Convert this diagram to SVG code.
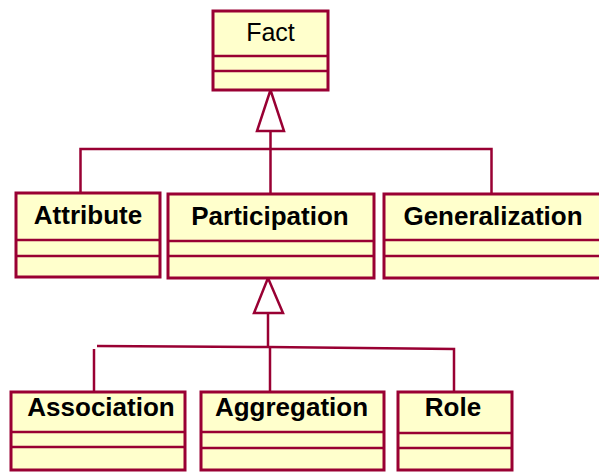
<svg xmlns="http://www.w3.org/2000/svg" width="599" height="472" viewBox="0 0 599 472">
  <style>
    .box rect { fill: #FFFFCC; stroke: #990033; stroke-width: 3; }
    .box line { stroke: #990033; stroke-width: 2.5; }
    .name { font-family: "Liberation Sans", Arial, sans-serif; font-size: 26px; font-weight: bold; fill: #000; text-anchor: middle; }
    .plain { font-weight: normal; font-size: 25px; }
    .conn { fill: none; stroke: #990033; stroke-width: 2.5; }
    .tri { fill: #FFFFFF; stroke: #990033; stroke-width: 2.5; stroke-linejoin: miter; }
  </style>
  <rect width="599" height="472" fill="#FFFFFF"/>

  <!-- connectors -->
  <g id="connectors">
    <!-- Fact generalization -->
    <polyline class="conn" points="270.5,131 270.5,194"/>
    <polyline class="conn" points="80.5,193 80.5,149 491.5,149 491.5,194"/>
    <polygon class="tri" points="270.5,90 257,131 284,131"/>
    <!-- Participation generalization -->
    <polyline class="conn" points="268,313 268,347"/>
    <polyline class="conn" points="94,392 94,349"/>
    <polyline class="conn" points="97,346 268,347 454,349 454,392"/>
    <polyline class="conn" points="270,348 270,392"/>
    <polygon class="tri" points="268,278 254,313 283,313"/>
  </g>

  <g id="fact" class="box">
    <rect x="213" y="11" width="115" height="79"/>
    <line x1="213" y1="56" x2="328" y2="56"/>
    <line x1="213" y1="71" x2="328" y2="71"/>
    <text class="name plain" x="270.5" y="41">Fact</text>
  </g>

  <g id="attribute" class="box">
    <rect x="16" y="193" width="144" height="84"/>
    <line x1="16" y1="240" x2="160" y2="240"/>
    <line x1="16" y1="256" x2="160" y2="256"/>
    <text class="name" x="88" y="224">Attribute</text>
  </g>

  <g id="participation" class="box">
    <rect x="168" y="194" width="206" height="84"/>
    <line x1="168" y1="241" x2="374" y2="241"/>
    <line x1="168" y1="256" x2="374" y2="256"/>
    <text class="name" x="270" y="225">Participation</text>
  </g>

  <g id="generalization" class="box">
    <rect x="384" y="194" width="220" height="84"/>
    <line x1="384" y1="240" x2="604" y2="240"/>
    <line x1="384" y1="256" x2="604" y2="256"/>
    <text class="name" x="493" y="225">Generalization</text>
  </g>

  <g id="association" class="box">
    <rect x="11" y="392" width="174" height="78"/>
    <line x1="11" y1="432" x2="185" y2="432"/>
    <line x1="11" y1="447" x2="185" y2="447"/>
    <text class="name" x="101" y="416">Association</text>
  </g>

  <g id="aggregation" class="box">
    <rect x="201" y="392" width="183" height="78"/>
    <line x1="201" y1="432" x2="384" y2="432"/>
    <line x1="201" y1="448" x2="384" y2="448"/>
    <text class="name" x="291.5" y="416">Aggregation</text>
  </g>

  <g id="role" class="box">
    <rect x="398" y="392" width="114" height="78"/>
    <line x1="398" y1="433" x2="512" y2="433"/>
    <line x1="398" y1="448" x2="512" y2="448"/>
    <text class="name" x="453" y="416">Role</text>
  </g>
</svg>
